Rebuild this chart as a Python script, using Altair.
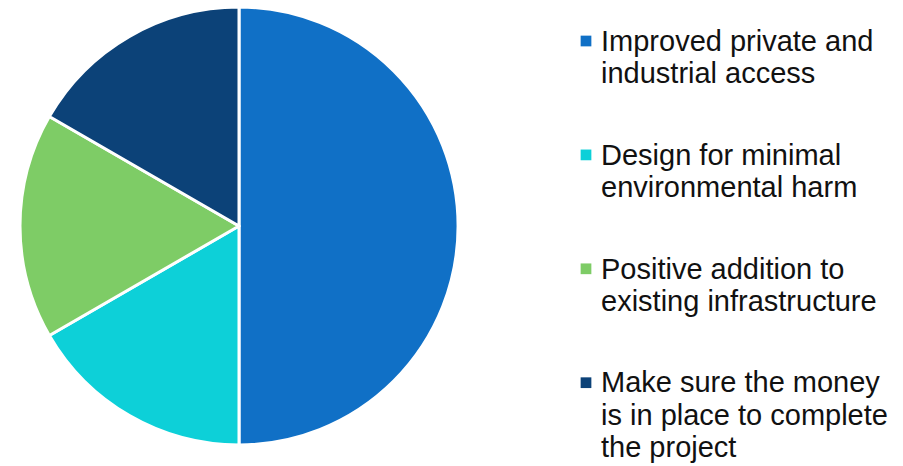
import altair as alt
import pandas as pd

labels = [
    "Improved private and industrial access",
    "Design for minimal environmental harm",
    "Positive addition to existing infrastructure",
    "Make sure the money is in place to complete the project",
]
label_lines = [
    ["Improved private and", "industrial access"],
    ["Design for minimal", "environmental harm"],
    ["Positive addition to", "existing infrastructure"],
    ["Make sure the money", "is in place to complete", "the project"],
]
values = [3, 1, 1, 1]
order = [0, 1, 2, 3]
colors = ["#1070C6", "#0DD0D8", "#7ECC66", "#0C4278"]

df = pd.DataFrame({"label": labels, "value": values, "idx": order})
lines_df = pd.DataFrame(
    [
        {"label": labels[i], "idx": order[i], "line": j, "text": t}
        for i in range(len(labels))
        for j, t in enumerate(label_lines[i])
    ]
)

color_enc = alt.Color("label:N", scale=alt.Scale(domain=labels, range=colors), legend=None)

pie = alt.Chart(df).mark_arc(
    outerRadius=219, stroke="white", strokeWidth=3, strokeJoin="round"
).encode(
    theta=alt.Theta("value:Q", stack=True),
    color=color_enc,
    order=alt.Order("idx:Q"),
).properties(width=462, height=438)

yscale = alt.Scale(domain=[-0.3837, 3.4618], reverse=True, nice=False, zero=False)

squares = alt.Chart(df).mark_square(size=115, opacity=1, yOffset=-9.7).encode(
    x=alt.value(11),
    y=alt.Y("idx:Q", scale=yscale, axis=None),
    color=color_enc,
)
texts = alt.Chart(lines_df).transform_calculate(
    pos="datum.idx + datum.line * 0.2836"
).mark_text(
    align="left", baseline="alphabetic", fontSize=29, font="Liberation Sans",
    color="#111111",
).encode(
    x=alt.value(26),
    y=alt.Y("pos:Q", scale=yscale, axis=None),
    text="text:N",
)
legend = alt.layer(squares, texts).properties(width=320, height=438)

chart = alt.hconcat(pie, legend, spacing=105).configure_view(stroke=None).properties(
    padding={"top": -3, "left": 0, "right": 0, "bottom": 0}
)

chart.save("out.html", embed_options={"renderer": "svg", "actions": False})
